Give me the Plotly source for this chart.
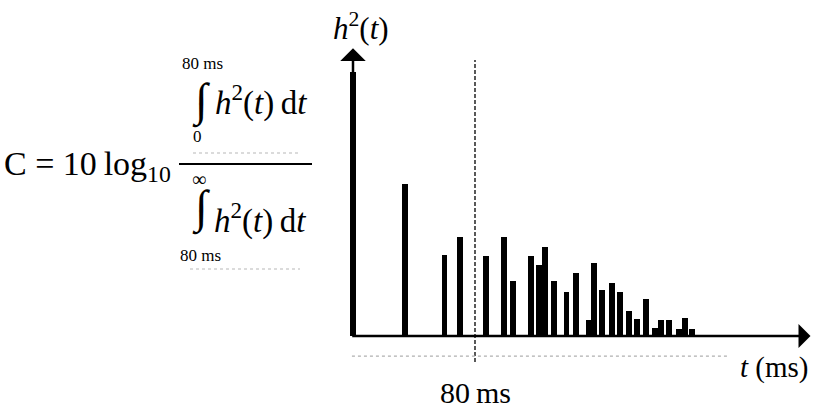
import plotly.graph_objects as go

# Squared impulse response h^2(t): reflection arrival times (ms) and relative energy
arrival_ms = [0, 34, 60, 70, 87, 99, 105, 117, 122, 126, 132, 140, 146, 155, 158,
              163, 170, 175, 181, 186, 192, 198, 202, 207, 214, 218, 222]
energy = [1.00, 0.576, 0.307, 0.375, 0.303, 0.375, 0.208, 0.303, 0.269, 0.337, 0.208,
          0.167, 0.239, 0.061, 0.277, 0.174, 0.201, 0.167, 0.095, 0.064, 0.140, 0.030,
          0.061, 0.061, 0.027, 0.068, 0.027]
split_ms = 80  # early / late boundary

W, H = 814, 411
SERIF = "Liberation Serif"


def px(x, y):
    """Figure pixel position -> paper fraction."""
    return x / W, 1 - y / H


fig = go.Figure()
fig.add_trace(go.Bar(x=arrival_ms, y=energy, width=3.9,
                     marker=dict(color="black", line=dict(width=0)),
                     hoverinfo="x+y"))

x0, x1 = 343, 812
y_top, y_bot = 40, 375
fig.update_layout(
    width=W, height=H,
    margin=dict(l=0, r=0, t=0, b=0),
    paper_bgcolor="white", plot_bgcolor="white",
    showlegend=False, bargap=0,
    xaxis=dict(domain=[x0 / W, x1 / W], range=[-6.56, 300.98],
               visible=False, fixedrange=True),
    yaxis=dict(domain=[1 - y_bot / H, 1 - y_top / H], range=[-0.1477, 1.1212],
               visible=False, fixedrange=True),
)

ann = []
# axes with arrowheads
ann.append(dict(x=0, y=1.09, ax=0, ay=0, xref="x", yref="y", axref="x", ayref="y",
                text="", showarrow=True, arrowhead=1, arrowwidth=2.5, arrowsize=1.7,
                arrowcolor="black", standoff=0, startstandoff=0))
ann.append(dict(x=300, y=0, ax=-1.5, ay=0, xref="x", yref="y", axref="x", ayref="y",
                text="", showarrow=True, arrowhead=1, arrowwidth=2.5, arrowsize=1.6,
                arrowcolor="black", standoff=0, startstandoff=0))


def txt(x, y, s, size, xanchor="center", family=SERIF):
    fx, fy = px(x, y)
    ann.append(dict(x=fx, y=fy, xref="paper", yref="paper", showarrow=False,
                    text=s, xanchor=xanchor, yanchor="middle",
                    font=dict(family=family, size=size, color="black")))


# axis titles
txt(361, 26, "<i>h</i><sup>2</sup>(<i>t</i>)", 31)
txt(774, 367, "<i>t</i> (ms)", 29)
_, ay_ = px(0, 392)
ann.append(dict(x=split_ms, y=ay_, xref="x", yref="paper", showarrow=False,
                text="80\u2009ms", xanchor="center", yanchor="middle",
                font=dict(family=SERIF, size=30, color="black")))

# clarity formula
txt(2, 166, "C = 10\u2009log<sub>10</sub>", 34, xanchor="left")
txt(202, 63, "80 ms", 17)
txt(201, 101, "\u222B", 46)
txt(261, 100, "<i>h</i><sup>2</sup>(<i>t</i>)\u2009d<i>t</i>", 33)
txt(197, 137, "0", 17)
txt(199, 179, "\u221E", 20)
txt(201, 208, "\u222B", 46)
txt(260, 218, "<i>h</i><sup>2</sup>(<i>t</i>)\u2009d<i>t</i>", 33)
txt(200, 255, "80 ms", 17)

fig.update_layout(annotations=ann)

shapes = []
# 80 ms boundary
shapes.append(dict(type="line", xref="x", yref="y", x0=split_ms, x1=split_ms,
                   y0=-0.098, y1=1.045, line=dict(color="black", width=1.3, dash="4px,2px")))
# faint dotted rule under the time axis
shapes.append(dict(type="line", xref="x", yref="y", x0=-0.7, x1=247, y0=-0.076, y1=-0.076,
                   line=dict(color="#b0b0b0", width=1.2, dash="dot")))
# fraction bar and faint rules of the formula
fx0, fy0 = px(179, 164)
fx1, _ = px(312, 164)
shapes.append(dict(type="line", xref="paper", yref="paper", x0=fx0, x1=fx1, y0=fy0, y1=fy0,
                   line=dict(color="black", width=2)))
for (a, b, y) in [(193, 300, 153), (190, 300, 269)]:
    gx0, gy = px(a, y)
    gx1, _ = px(b, y)
    shapes.append(dict(type="line", xref="paper", yref="paper", x0=gx0, x1=gx1, y0=gy, y1=gy,
                       line=dict(color="#b8b8b8", width=1.2, dash="dot")))
fig.update_layout(shapes=shapes)

fig.write_html("out.html")
